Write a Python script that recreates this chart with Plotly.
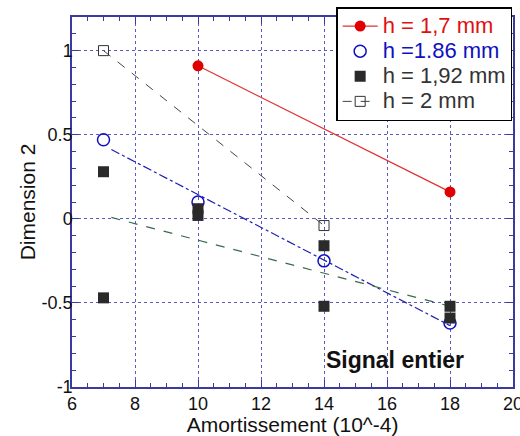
import numpy as np
import plotly.graph_objects as go

# Data
x_17 = [10, 18]
y_17 = [0.91, 0.16]

x_186 = [7, 10, 14, 18]
y_186 = [0.47, 0.10, -0.25, -0.62]

x_192 = [7, 7, 10, 10, 14, 14, 18, 18]
y_192 = [0.28, -0.47, 0.06, 0.02, -0.16, -0.52, -0.52, -0.59]

x_2 = [7, 14]
y_2 = [1.0, -0.04]

fit_range = [7.25, 18]

x_ticks = [6, 8, 10, 12, 14, 16, 18, 20]
y_ticks = [-1, -0.5, 0, 0.5, 1]
y_tick_labels = ["-1", "-0.5", "0", "0.5", "1"]

FONT = "Arial, Liberation Sans, sans-serif"

# Linear fits
b_fit = np.polyfit(x_186, y_186, 1)
k_fit = np.polyfit(x_192, y_192, 1)
xf = np.array(fit_range)


def lg(text, color):
    return f"<span style='color:{color};font-size:22px'>{text}</span>"


fig = go.Figure()

fig.add_trace(go.Scatter(x=xf, y=np.polyval(b_fit, xf), mode="lines",
                         line=dict(color="#2020b0", width=1.2, dash="dashdot"),
                         showlegend=False, hoverinfo="skip"))
fig.add_trace(go.Scatter(x=xf, y=np.polyval(k_fit, xf), mode="lines",
                         line=dict(color="#3a6a4a", width=1.2, dash="dash"),
                         showlegend=False, hoverinfo="skip"))

fig.add_trace(go.Scatter(x=x_17, y=y_17, mode="lines+markers",
                         name=lg("h = 1,7 mm", "#e01010"),
                         line=dict(color="#e03030", width=1.2),
                         marker=dict(symbol="circle", size=11, color="#e00000")))
fig.add_trace(go.Scatter(x=x_186, y=y_186, mode="markers",
                         name=lg("h =1.86 mm", "#1010c0"),
                         marker=dict(symbol="circle-open", size=12,
                                     line=dict(color="#1010c0", width=1.5),
                                     color="#1010c0")))
fig.add_trace(go.Scatter(x=x_192, y=y_192, mode="markers",
                         name=lg("h = 1,92 mm", "#333333"),
                         marker=dict(symbol="square", size=11, color="#2a2a2a")))
fig.add_trace(go.Scatter(x=x_2, y=y_2, mode="lines+markers",
                         name=lg("h = 2 mm", "#333333"),
                         line=dict(color="#444444", width=1, dash="dash"),
                         marker=dict(symbol="square-open", size=10,
                                     line=dict(color="#333333", width=1),
                                     color="#333333")))

fig.add_annotation(x=16.25, y=-0.84, text="<b>Signal entier</b>", showarrow=False,
                   font=dict(family=FONT, size=23, color="#111111"))

axis_common = dict(
    showline=True, linecolor="#3a3aa0", linewidth=1.5, mirror="allticks",
    ticks="inside", ticklen=7, tickcolor="#3a3aa0",
    showgrid=True, gridcolor="#5a5ac0", griddash="dot", gridwidth=1,
    zeroline=False, tickfont=dict(family=FONT, size=18, color="#111111"),
    ticklabeloverflow="allow",
)

fig.update_xaxes(range=[6, 20], tickvals=x_ticks, ticktext=[str(v) for v in x_ticks],
                 minor=dict(dtick=0.5, ticks="inside", ticklen=4, tickcolor="#3a3aa0", showgrid=False),
                 title=dict(text="Amortissement (10^-4)", font=dict(family=FONT, size=21, color="#111111"), standoff=2),
                 **axis_common)
fig.update_yaxes(range=[-1, 1.2], tickvals=y_ticks, ticktext=y_tick_labels,
                 minor=dict(dtick=0.1, ticks="inside", ticklen=4, tickcolor="#3a3aa0", showgrid=False),
                 title=dict(text="Dimension 2", font=dict(family=FONT, size=21, color="#111111"), standoff=0),
                 ticklabelstandoff=-6,
                 **axis_common)

fig.update_layout(
    width=520, height=436,
    margin=dict(l=72, r=7, t=17, b=49, autoexpand=False),
    paper_bgcolor="white", plot_bgcolor="white",
    font=dict(family=FONT, size=18, color="#111111"),
    legend=dict(x=0.599, y=1.027, xanchor="left", yanchor="top",
                bgcolor="white", bordercolor="#000000", borderwidth=1.5,
                font=dict(family=FONT, size=17), tracegroupgap=0,
                itemwidth=35),
    showlegend=True,
)

fig.write_html("out.html", config={"displayModeBar": False},
               post_script="document.body.style.margin='0';document.body.style.overflow='hidden';")
